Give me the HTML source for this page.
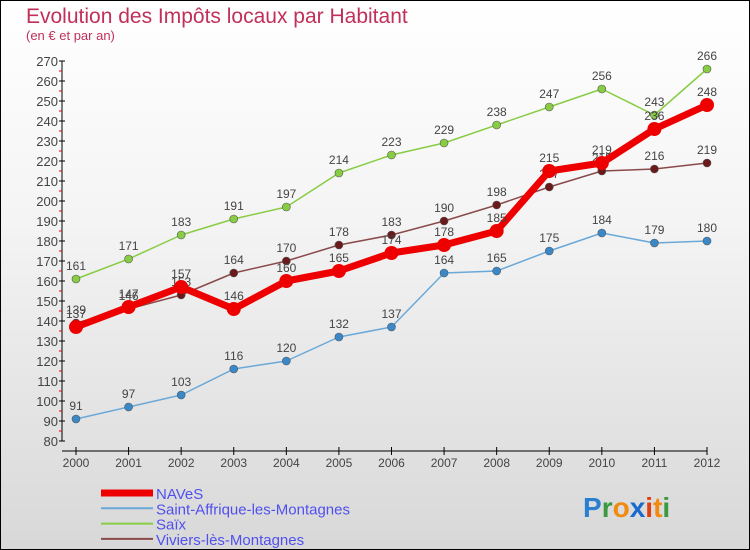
<!DOCTYPE html>
<html><head><meta charset="utf-8"><style>
body{margin:0}
#root{position:relative;width:748px;height:548px;border:1px solid #000;background:linear-gradient(#fff,#f4f4f4 40%,#d8d8d8);font-family:"Liberation Sans",sans-serif;overflow:hidden}
</style></head><body>
<div id="root">
<svg id="svg" width="748" height="548" xmlns="http://www.w3.org/2000/svg">
<text x="25" y="22" font-size="21" fill="#c0305a">Evolution des Impôts locaux par Habitant</text>
<text x="25" y="39" font-size="13" fill="#c0305a">(en € et par an)</text>
<g id="axes"></g><g id="series"></g><g id="legend"></g>
<g font-size="28" font-weight="bold">
<text x="582" y="516"><tspan fill="#2a7fd0">P</tspan><tspan fill="#3a9a40">r</tspan><tspan fill="#f08a10">o</tspan><tspan fill="#1a6ad0">x</tspan><tspan fill="#e04010">i</tspan><tspan fill="#f08a10">t</tspan><tspan fill="#3a9a40">i</tspan></text>
</g>
</svg></div>
<script>
const years=[2000,2001,2002,2003,2004,2005,2006,2007,2008,2009,2010,2011,2012];
const naves=[137,147,157,146,160,165,174,178,185,215,219,236,248];
const saintAffrique=[91,97,103,116,120,132,137,164,165,175,184,179,180];
const saix=[161,171,183,191,197,214,223,229,238,247,256,243,266];
const viviers=[139,146,153,164,170,178,183,190,198,207,215,216,219];
const yTicks=[80,90,100,110,120,130,140,150,160,170,180,190,200,210,220,230,240,250,260,270];
const seriesNames=["NAVeS","Saint-Affrique-les-Montagnes","Saïx","Viviers-lès-Montagnes"];
const NS="http://www.w3.org/2000/svg";
const xs=i=>75+i*(706-75)/(years.length-1);
const ys=v=>440-(v-80)*2;
function mk(t,a,p){const e=document.createElementNS(NS,t);for(const k in a)e.setAttribute(k,a[k]);p.appendChild(e);return e;}
const ax=document.getElementById('axes');
let e=mk('line',{x1:61,y1:ys(270),x2:61,y2:ys(80),stroke:'#000'},ax);

e=mk('line',{x1:61,y1:450,x2:xs(12),y2:450,stroke:'#000'},ax);

yTicks.forEach((v,i)=>{
 mk('line',{x1:58,y1:ys(v),x2:64,y2:ys(v),stroke:'#000'},ax);
 if(i<yTicks.length-1)mk('line',{x1:58,y1:ys(v+5),x2:61,y2:ys(v+5),stroke:'#e00'},ax);
 const t=mk('text',{x:57,y:ys(v)+5,'font-size':13,fill:'#444','text-anchor':'end'},ax);t.textContent=v;
 
});
years.forEach((y,i)=>{
 mk('line',{x1:xs(i),y1:446,x2:xs(i),y2:454,stroke:'#000'},ax);
 const t=mk('text',{x:xs(i),y:466,'font-size':12,fill:'#444','text-anchor':'middle'},ax);t.textContent=y;
 
});
const sg=document.getElementById('series');
const defs=[
 {d:saix,c:'#88cc44',w:1.5,r:4,n:'series-saix'},
 {d:saintAffrique,c:'#6aa8d8',w:1.5,r:4,n:'series-saint-affrique',f:'#3a88c8'},
 {d:viviers,c:'#8a4a4a',w:1.5,r:4,n:'series-viviers',f:'#6a1a1a'},
 {d:naves,c:'#ee0000',w:7,r:7,n:'series-naves'}];
defs.forEach(s=>{
 const g=mk('g',{},sg);
 
 mk('polyline',{points:s.d.map((v,i)=>xs(i)+','+ys(v)).join(' '),fill:'none',stroke:s.c,'stroke-width':s.w,'stroke-linejoin':'round'},g);
 s.d.forEach((v,i)=>{
  const c=mk('circle',{cx:xs(i),cy:ys(v),r:s.r,fill:s.f||s.c,stroke:'#555','stroke-width':s.r>5?0:0.6},g);
  
  const t=mk('text',{x:xs(i),y:ys(v)-9,'font-size':12,fill:'#444','text-anchor':'middle'},g);t.textContent=v;
 });
});
const lg=document.getElementById('legend');
const lc=['#ee0000','#6aa8d8','#88cc44','#8a4a4a'],lw=[7,2,2,2];
seriesNames.forEach((n,i)=>{
 const y=492+i*15.3;
 const g=mk('g',{},lg);
 
 mk('line',{x1:100,y1:y,x2:152,y2:y,stroke:lc[i],'stroke-width':lw[i]},g);
 const t=mk('text',{x:155,y:y+6,'font-size':15,fill:'#5050f0'},g);t.textContent=n;
});
</script></body></html>
